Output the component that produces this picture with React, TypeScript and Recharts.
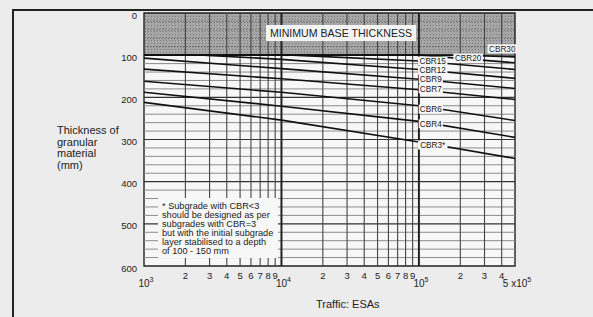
import { LineChart, Line, XAxis, YAxis, ReferenceLine, ReferenceArea, ReferenceDot } from 'recharts'

// design curves: traffic (ESAs) and granular thickness (mm)
const cbr30Traffic = [1000, 200000, 500000]
const cbr30Thickness = [100, 100, 104]
const cbr20Traffic = [1000, 100000, 500000]
const cbr20Thickness = [100, 100, 118]
const cbr15Traffic = [1000, 12000, 100000, 500000]
const cbr15Thickness = [100, 100, 114, 134]
const cbr12Traffic = [1000, 2700, 10000, 100000, 500000]
const cbr12Thickness = [100, 100, 110, 134, 155]
const cbr9Traffic = [1000, 10000, 100000, 500000]
const cbr9Thickness = [107, 132, 157, 179]
const cbr7Traffic = [1000, 10000, 100000, 500000]
const cbr7Thickness = [133, 156, 182, 205]
const cbr6Traffic = [1000, 10000, 100000, 500000]
const cbr6Thickness = [162, 188, 220, 255]
const cbr4Traffic = [1000, 10000, 100000, 500000]
const cbr4Thickness = [188, 221, 257, 295]
const cbr3Traffic = [1000, 10000, 100000, 500000]
const cbr3Thickness = [212, 254, 306, 345]

const curveNames = ['CBR30', 'CBR20', 'CBR15', 'CBR12', 'CBR9', 'CBR7', 'CBR6', 'CBR4', 'CBR3*']
const curveTraffic = [cbr30Traffic, cbr20Traffic, cbr15Traffic, cbr12Traffic, cbr9Traffic, cbr7Traffic, cbr6Traffic, cbr4Traffic, cbr3Traffic]
const curveThickness = [cbr30Thickness, cbr20Thickness, cbr15Thickness, cbr12Thickness, cbr9Thickness, cbr7Thickness, cbr6Thickness, cbr4Thickness, cbr3Thickness]

// where each curve label sits
const labelTraffic = [404000, 228000, 126000, 126000, 122000, 122000, 122000, 122000, 126000]
const labelThickness = [85, 107, 114, 136, 157, 180, 228, 263, 313]

const xTicks = [1000, 2000, 3000, 4000, 5000, 6000, 7000, 8000, 9000, 10000, 20000, 30000, 40000, 50000, 60000, 70000, 80000, 90000, 100000, 200000, 300000, 400000, 500000]
const yTicks = [0, 100, 200, 300, 400, 500, 600]
const gridThickness = [120, 140, 160, 180, 200, 220, 240, 260, 280, 300, 320, 340, 360, 380, 400, 420, 440, 460, 480, 500, 520, 540, 560, 580]
const shadedGrid = [20, 40, 60, 80]
const gridTraffic = [2000, 3000, 4000, 5000, 6000, 7000, 8000, 9000, 10000, 20000, 30000, 40000, 50000, 60000, 70000, 80000, 90000, 100000, 200000, 300000, 400000]

const footnote = [
  '* Subgrade with CBR<3',
  'should be designed as per',
  'subgrades with CBR=3',
  'but with the initial subgrade',
  'layer stabilised to a depth',
  'of 100 - 150 mm',
]

const FONT = '"Liberation Sans", Arial, Helvetica, sans-serif'

const series = curveNames.map((name, i) => ({
  name,
  data: curveTraffic[i].map((t, j) => ({ t, v: curveThickness[i][j] })),
}))

const XTick = ({ x, y, payload }: any) => {
  const v = payload.value
  if (v === 500000) {
    return (
      <text x={x + 2} y={y + 21} textAnchor="middle" fontSize={10} fill="#222" fontFamily={FONT}>
        5 x10<tspan dy={-5} fontSize={7}>5</tspan>
      </text>
    )
  }
  const exp = Math.round(Math.log10(v))
  if (Math.abs(Math.pow(10, exp) - v) < 1) {
    return (
      <text x={x + 2} y={y + 21} textAnchor="middle" fontSize={10} fill="#222" fontFamily={FONT}>
        10<tspan dy={-5} fontSize={7}>{exp}</tspan>
      </text>
    )
  }
  const digit = Math.round(v / Math.pow(10, Math.floor(Math.log10(v))))
  return (
    <text x={x} y={y + 13} textAnchor="middle" fontSize={9.5} fill="#222" fontFamily={FONT}>
      {digit}
    </text>
  )
}

const YTick = ({ x, y, payload }: any) => (
  <text x={x} y={y + 5.5} textAnchor="end" fontSize={9.5} fill="#222" fontFamily={FONT}>
    {payload.value}
  </text>
)

const CurveLabel = ({ cx, cy, text }: any) => {
  const w = text.length * 5.3 + 3
  return (
    <g>
      <rect x={cx - w / 2} y={cy - 4.5} width={w} height={9} fill="#f6f6f6" />
      <text x={cx} y={cy + 3} textAnchor="middle" fontSize={8.2} fill="#222" fontFamily={FONT}>
        {text}
      </text>
    </g>
  )
}

export default function App() {
  return (
    <div style={{ position: 'absolute', left: 0, top: 0, width: 593, height: 317, background: '#ececec', overflow: 'hidden', fontFamily: FONT }}>
      <LineChart width={593} height={317} margin={{ top: 13, right: 78, bottom: 21, left: 104 }}>
        <defs>
          <pattern id="stipple" width="3" height="3" patternUnits="userSpaceOnUse">
            <rect width="3" height="3" fill="#a6a6a6" />
            <rect x="1" y="1" width="1" height="1" fill="#7a7a7a" />
          </pattern>
        </defs>
        <XAxis
          dataKey="t"
          type="number"
          scale="log"
          domain={[1000, 500000]}
          ticks={xTicks}
          interval={0}
          allowDataOverflow
          axisLine={false}
          tickLine={false}
          tickSize={0}
          tickMargin={0}
          height={30}
          tick={<XTick />}
        />
        <YAxis
          type="number"
          domain={[0, 600]}
          ticks={yTicks}
          reversed
          width={40}
          axisLine={false}
          tickLine={false}
          tickSize={0}
          tickMargin={7}
          interval={0}
          tick={<YTick />}
        />
        <ReferenceArea x1={1000} x2={500000} y1={100} y2={600} fill="#f7f7f7" fillOpacity={1} stroke="none" />
        <ReferenceArea x1={1000} x2={500000} y1={0} y2={100} fill="url(#stipple)" fillOpacity={1} stroke="none" />
        {shadedGrid.map((g) => (
          <ReferenceLine key={'s' + g} y={g} stroke="#555" strokeDasharray="1 2" />
        ))}
        {gridThickness.map((g) => (
          <ReferenceLine key={'h' + g} y={g} stroke={g % 100 === 0 ? '#333' : '#8c8c8c'} strokeWidth={g % 100 === 0 ? 1.2 : 1} />
        ))}
        {gridTraffic.map((g) => (
          <ReferenceLine key={'v' + g} x={g} stroke={g === 10000 || g === 100000 ? '#222' : '#444'} strokeWidth={g === 10000 || g === 100000 ? 2 : 1.1} />
        ))}
        <ReferenceLine y={100} stroke="#333" strokeWidth={1} />
        {series.map((s) => (
          <Line
            key={s.name}
            data={s.data}
            dataKey="v"
            name={s.name}
            type="linear"
            stroke="#111"
            strokeWidth={1.6}
            dot={false}
            activeDot={false}
            isAnimationActive={false}
          />
        ))}
        {curveNames.map((n, i) => (
          <ReferenceDot
            key={'l' + n}
            x={labelTraffic[i]}
            y={labelThickness[i]}
            r={0}
            shape={(p: any) => <CurveLabel {...p} text={n} />}
          />
        ))}
        <ReferenceArea x1={1000} x2={500000} y1={0} y2={600} fill="none" stroke="#222" strokeWidth={1.4} />
      </LineChart>

      <div style={{ position: 'absolute', left: 13, top: 9, width: 580, height: 1.5, background: '#222' }} />
      <div style={{ position: 'absolute', left: 12, top: 9, width: 1.5, height: 308, background: '#222' }} />

      <div style={{ position: 'absolute', left: 266, top: 25, width: 150, height: 16, background: '#f4f4f4', fontSize: 10.6, lineHeight: '16px', textAlign: 'center', color: '#222' }}>
        MINIMUM BASE THICKNESS
      </div>

      <div style={{ position: 'absolute', left: 158, top: 198, width: 120, height: 60, background: '#f7f7f7', color: '#222', fontSize: 9.2, lineHeight: '9.1px', padding: '4px 0 0 4px', boxSizing: 'border-box', whiteSpace: 'nowrap' }}>
        {footnote.map((l) => (
          <div key={l}>{l}</div>
        ))}
      </div>

      <div style={{ position: 'absolute', left: 57, top: 125, fontSize: 11, lineHeight: '11.5px', color: '#222' }}>
        <div>Thickness of</div>
        <div>granular</div>
        <div>material</div>
        <div>(mm)</div>
      </div>

      <div style={{ position: 'absolute', left: 316, top: 298, fontSize: 11, lineHeight: '13px', color: '#222' }}>
        Traffic: ESAs
      </div>
    </div>
  )
}
